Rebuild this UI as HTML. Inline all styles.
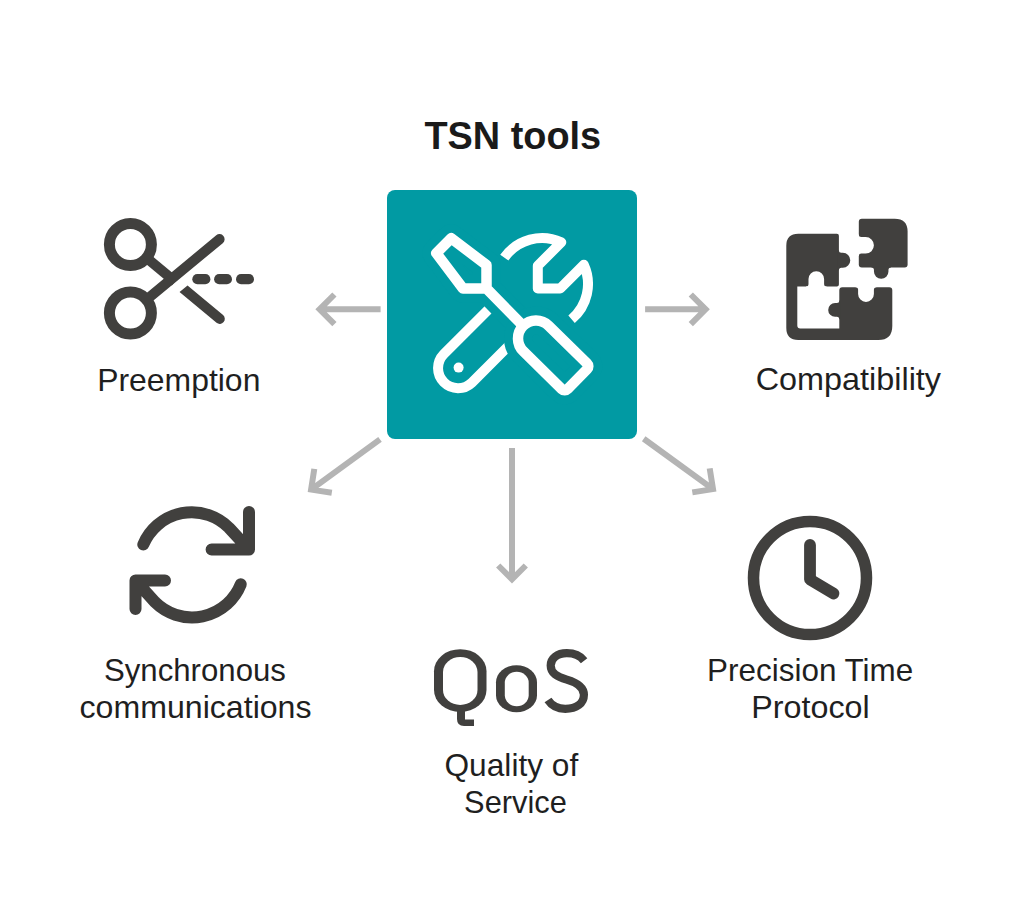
<!DOCTYPE html>
<html><head><meta charset="utf-8"><style>
html,body{margin:0;padding:0;background:#ffffff;}
body{width:1024px;height:899px;overflow:hidden;}
svg{display:block;}
text{font-family:"Liberation Sans", sans-serif;}
</style></head><body>
<svg width="1024" height="899" viewBox="0 0 1024 899">
<rect width="1024" height="899" fill="#ffffff"/>
<text x="0" y="0" transform="translate(424.42 148.50) scale(0.9712 1)" font-family="Liberation Sans" font-size="39" font-weight="bold" fill="#1a1a1a">TSN tools</text>
<text x="0" y="0" transform="translate(97.15 390.80) scale(0.9979 1)" font-family="Liberation Sans" font-size="32" font-weight="normal" fill="#1f1f1f">Preemption</text>
<text x="0" y="0" transform="translate(755.68 390.00) scale(1.0119 1)" font-family="Liberation Sans" font-size="32" font-weight="normal" fill="#1f1f1f">Compatibility</text>
<text x="0" y="0" transform="translate(104.00 680.60) scale(0.9742 1)" font-family="Liberation Sans" font-size="32" font-weight="normal" fill="#1f1f1f">Synchronous</text>
<text x="0" y="0" transform="translate(79.55 718.20) scale(1.0038 1)" font-family="Liberation Sans" font-size="32" font-weight="normal" fill="#1f1f1f">communications</text>
<text x="0" y="0" transform="translate(707.08 680.80) scale(0.9827 1)" font-family="Liberation Sans" font-size="32" font-weight="normal" fill="#1f1f1f">Precision Time</text>
<text x="0" y="0" transform="translate(751.32 718.20) scale(1.0085 1)" font-family="Liberation Sans" font-size="32" font-weight="normal" fill="#1f1f1f">Protocol</text>
<rect x="434" y="649.2" width="52.5" height="62.8" rx="26.25" ry="22" fill="#41403e"/>
<rect x="443" y="657" width="34.5" height="48" rx="17.25" ry="15" fill="#ffffff"/>
<path d="M457 709V719Q457 726 464 726H474V719.5H465V709Z" fill="#41403e"/>
<rect x="496" y="665.2" width="41" height="47.1" rx="20.5" ry="17" fill="#41403e"/>
<rect x="504.8" y="671.7" width="23.9" height="34.5" rx="11.95" ry="11" fill="#ffffff"/>
<path d="M584.1 660.7C580 655.5 574 653.2 566.8 653.2C557 653.2 550.7 658.5 550.7 665.4C550.7 673.5 557.5 676.8 566.8 679.6C577 682.6 583.9 686.5 583.9 694.7C583.9 703.5 576.5 708.8 565.3 708.8C557.5 708.8 551.5 705.5 548 700.1" fill="none" stroke="#41403e" stroke-width="8.2"/>
<text x="0" y="0" transform="translate(444.47 775.90) scale(0.9906 1)" font-family="Liberation Sans" font-size="32" font-weight="normal" fill="#1f1f1f">Quality of</text>
<text x="0" y="0" transform="translate(464.11 813.00) scale(0.9630 1)" font-family="Liberation Sans" font-size="32" font-weight="normal" fill="#1f1f1f">Service</text>
<rect x="387" y="190" width="250" height="249" rx="8" fill="#019aa3"/>
<path d="M380.6 309.3L319.6 309.3M334.4 324.1L319.6 309.3L334.4 294.5" fill="none" stroke="#b4b4b4" stroke-width="6" stroke-linejoin="miter" stroke-linecap="butt"/>
<path d="M645.1 309.3L705.6 309.3M690.8 294.5L705.6 309.3L690.8 324.1" fill="none" stroke="#b4b4b4" stroke-width="6" stroke-linejoin="miter" stroke-linecap="butt"/>
<path d="M380.0 439.3L311.1 489.6M331.8 492.8L311.1 489.6L314.3 468.9" fill="none" stroke="#b4b4b4" stroke-width="6" stroke-linejoin="miter" stroke-linecap="butt"/>
<path d="M643.7 438.8L713.0 489.1M709.7 468.4L713.0 489.1L692.3 492.4" fill="none" stroke="#b4b4b4" stroke-width="6" stroke-linejoin="miter" stroke-linecap="butt"/>
<path d="M512.0 448.0L512.0 579.3M525.8 565.5L512.0 579.3L498.2 565.5" fill="none" stroke="#b4b4b4" stroke-width="6" stroke-linejoin="miter" stroke-linecap="butt"/>
<circle cx="130.4" cy="244.5" r="21" fill="none" stroke="#41403e" stroke-width="11"/>
<circle cx="130.4" cy="313.1" r="21" fill="none" stroke="#41403e" stroke-width="11"/>
<path d="M146.54 257.93L175.10 281.70" stroke="#41403e" stroke-width="10.2" fill="none"/>
<path d="M179.55 292.04L187.54 285.42L223.06 314.98A5.1 5.1 0 0 1 216.54 322.82Z" fill="#41403e"/>
<path d="M146.56 299.69L219.50 239.20" stroke="#41403e" stroke-width="10.2" stroke-linecap="round" fill="none"/>
<rect x="192.3" y="274.1" width="18.1" height="10.1" rx="5.05" fill="#41403e"/>
<rect x="214.1" y="274.1" width="17.9" height="10.1" rx="5.05" fill="#41403e"/>
<rect x="236.0" y="274.1" width="18.0" height="10.1" rx="5.05" fill="#41403e"/>
<path d="M798.3 233.7H836.9Q838.9 233.7 838.9 235.7V284.4Q838.9 286.4 836.9 286.4H797.3V325.6Q797.3 328.6 800.3 328.6H839.3V290.3Q839.3 287.3 842.3 287.3H889.3Q892.3 287.3 892.3 290.3V326Q892.3 340 878.3 340H798.3Q786.3 340 786.3 328V245.7Q786.3 233.7 798.3 233.7Z" fill="#41403e"/>
<path d="M837.90 270.30L838.90 270.30Q838.90 267.80 841.40 267.80L842.80 267.80A7.5 7.5 0 0 0 842.80 252.80L841.40 252.80Q838.90 252.80 838.90 250.30L837.90 250.30Z" fill="#41403e"/>
<path d="M826.60 287.40L826.60 286.40Q824.10 286.40 824.10 283.90L824.10 279.10A7.8 7.8 0 0 0 808.50 279.10L808.50 283.90Q808.50 286.40 806.00 286.40L806.00 287.40Z" fill="#ffffff"/>
<path d="M840.30 300.50L839.30 300.50Q839.30 303.00 836.80 303.00L835.10 303.00A6.9 6.9 0 0 0 835.10 316.80L836.80 316.80Q839.30 316.80 839.30 319.30L840.30 319.30Z" fill="#41403e"/>
<path d="M855.60 286.30L855.60 287.30Q858.10 287.30 858.10 289.80L858.10 294.00A7.9 7.9 0 0 0 873.90 294.00L873.90 289.80Q873.90 287.30 876.40 287.30L876.40 286.30Z" fill="#ffffff"/>
<path d="M861.8 218.7H894.6Q907.6 218.7 907.6 231.7V264.4Q907.6 267.4 904.6 267.4H861.8Q858.8 267.4 858.8 264.4V221.7Q858.8 218.7 861.8 218.7Z" fill="#41403e"/>
<path d="M857.80 256.05L858.80 256.05Q858.80 253.55 861.30 253.55L865.65 253.55A8.25 8.25 0 0 0 865.65 237.05L861.30 237.05Q858.80 237.05 858.80 234.55L857.80 234.55Z" fill="#ffffff"/>
<path d="M871.45 266.40L871.45 267.40Q873.95 267.40 873.95 269.90L873.95 271.50A7.25 7.25 0 0 0 888.45 271.50L888.45 269.90Q888.45 267.40 890.95 267.40L890.95 266.40Z" fill="#41403e"/>
<path d="M143.3 544.5A52.5 52.5 0 0 1 229.1 527.9L249 549.5M249 512V549.5H211.6" fill="none" stroke="#41403e" stroke-width="12" stroke-linecap="round" stroke-linejoin="round"/>
<path d="M240.8 584.3A52.5 52.5 0 0 1 154.9 602.1L135.5 580.5M165 580.5H135.5V609" fill="none" stroke="#41403e" stroke-width="12" stroke-linecap="round" stroke-linejoin="round"/>
<circle cx="810" cy="578" r="56.5" fill="none" stroke="#41403e" stroke-width="11.5"/>
<path d="M810 545V579.5L833.5 593.5" fill="none" stroke="#41403e" stroke-width="11.8" stroke-linecap="round" stroke-linejoin="round"/>
<path d="M504.32 257.62A46 46 0 0 1 561.27 242.23L537.8 265.7V288.5H560.2L583.83 264.87A46 46 0 0 1 571.57 319.24" fill="none" stroke="#ffffff" stroke-width="10" stroke-linejoin="round"/>
<path d="M500.23 297.69L443.66 354.26A20 20 0 0 0 471.94 382.54L515.78 338.70" fill="none" stroke="#ffffff" stroke-width="10"/>
<circle cx="458.6" cy="367.6" r="5" fill="#ffffff"/>
<path d="M486.5 288.5V265L451.2 238.3L436.3 253.2L463 288.5ZM486.5 288.5L523.16 325.88" fill="none" stroke="#019aa3" stroke-width="28" stroke-linejoin="round"/><path d="M548.62 325.66L587.13 363.51A4 4 0 0 1 587.18 369.17L567.56 389.14A4 4 0 0 1 561.90 389.19L523.38 351.34A18 18 0 0 1 548.62 325.66Z" fill="#019aa3" stroke="#019aa3" stroke-width="28" stroke-linejoin="round"/>
<path d="M486.5 288.5V265L451.2 238.3L436.3 253.2L463 288.5ZM486.5 288.5L523.16 325.88" fill="none" stroke="#ffffff" stroke-width="10.5" stroke-linejoin="round"/><path d="M548.62 325.66L587.13 363.51A4 4 0 0 1 587.18 369.17L567.56 389.14A4 4 0 0 1 561.90 389.19L523.38 351.34A18 18 0 0 1 548.62 325.66Z" fill="none" stroke="#ffffff" stroke-width="10.5" stroke-linejoin="round"/>
</svg>
</body></html>
